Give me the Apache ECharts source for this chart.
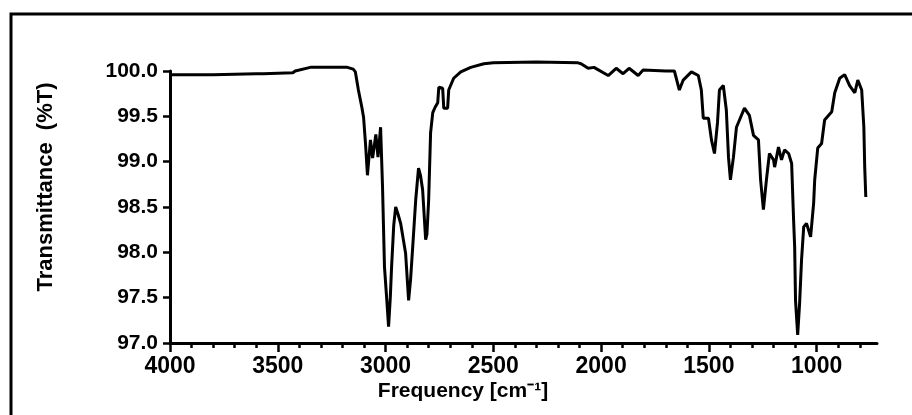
<!DOCTYPE html>
<html>
<head>
<meta charset="utf-8">
<script src="https://cdn.jsdelivr.net/npm/echarts@6/dist/echarts.min.js"></script>
<style>html,body{margin:0;padding:0;background:#fff;}#c{width:912px;height:415px;}</style>
</head>
<body>
<div id="c"></div>
<script>
var wavenumber = [4000,3800,3600,3567,3430,3419,3349,3177,3150,3140,3126,3110,3102,3093,3084,3070,3060,3045,3035,3023,3014,3005,2995,2986,2978,2972,2962,2953,2942,2930,2907,2893,2884,2874,2860,2847,2838,2828,2814,2808,2800,2791,2781,2770,2758,2753,2735,2730,2712,2707,2684,2651,2605,2544,2500,2300,2107,2093,2060,2033,1967,1930,1898,1870,1828,1805,1700,1660,1637,1619,1581,1549,1535,1526,1502,1488,1474,1460,1451,1433,1419,1409,1400,1386,1372,1358,1335,1312,1293,1270,1260,1247,1233,1219,1200,1195,1177,1163,1149,1130,1116,1107,1102,1098,1088,1079,1070,1060,1047,1028,1014,1009,995,977,963,930,916,893,870,847,823,809,791,781,777,772];
var transmittance = [99.96,99.96,99.97,99.97,99.98,100.0,100.04,100.04,100.02,99.99,99.79,99.6,99.49,99.2,98.85,99.24,99.04,99.3,99.05,99.38,98.72,97.84,97.5,97.18,97.5,97.84,98.3,98.5,98.42,98.32,97.99,97.47,97.7,98.06,98.58,98.93,98.85,98.69,98.14,98.2,98.58,99.32,99.54,99.6,99.65,99.82,99.81,99.59,99.59,99.79,99.92,99.99,100.04,100.08,100.09,100.1,100.09,100.08,100.03,100.04,99.95,100.03,99.97,100.03,99.95,100.01,100.0,100.0,99.79,99.9,99.99,99.95,99.79,99.48,99.48,99.24,99.09,99.43,99.79,99.84,99.57,99.05,98.8,99.05,99.38,99.46,99.59,99.51,99.29,99.24,98.8,98.47,98.8,99.09,99.02,98.94,99.16,99.02,99.13,99.09,98.98,98.36,98.06,97.47,97.09,97.44,97.92,98.28,98.32,98.17,98.54,98.8,99.15,99.2,99.46,99.55,99.76,99.92,99.96,99.84,99.76,99.9,99.79,99.38,98.94,98.61];
var xMajorTicks = [4000,3500,3000,2500,2000,1500,1000];
var xMinorTicks = [3900,3800,3700,3600,3400,3300,3200,3100,2900,2800,2700,2600,2400,2300,2200,2100,1900,1800,1700,1600,1400,1300,1200,1100,900,800];
var yTicks = [97.0,97.5,98.0,98.5,99.0,99.5,100.0];

var pts = wavenumber.map(function(w, i){ return [w, transmittance[i]]; });
var chart = echarts.init(document.getElementById('c'));
var F = '"Liberation Sans", Arial, sans-serif';
var TC = '#000';
chart.setOption({
  animation: false,
  backgroundColor: '#fff',
  grid: {left: 170, right: 35, top: 71, bottom: 72},
  xAxis: [{
    type: 'value', min: 720, max: 4000, inverse: true,
    axisLine: {show: true, onZero: false, lineStyle: {color: '#000', width: 3}},
    axisTick: {show: true, customValues: xMajorTicks, length: 9, lineStyle: {color: TC, width: 2.5}},
    axisLabel: {customValues: xMajorTicks, margin: 12, color: '#000', fontSize: 23, fontWeight: 'bold', fontFamily: F,
      formatter: function(v){ return String(v); }},
    splitLine: {show: false}
  }, {
    type: 'value', min: 720, max: 4000, inverse: true, position: 'bottom', offset: 0,
    axisLine: {show: false, onZero: false},
    axisTick: {show: true, customValues: xMinorTicks, length: 5, lineStyle: {color: TC, width: 2.5}},
    axisLabel: {show: false, customValues: xMinorTicks},
    splitLine: {show: false}
  }],
  yAxis: {
    type: 'value', min: 97, max: 100, interval: 0.5,
    axisLine: {show: true, lineStyle: {color: '#000', width: 3}},
    axisTick: {show: true, length: 7, lineStyle: {color: TC, width: 2.5}},
    axisLabel: {customValues: yTicks, margin: 12, color: '#000', fontSize: 21, fontWeight: 'bold', fontFamily: F,
      formatter: function(v){ return v.toFixed(1); }},
    splitLine: {show: false}
  },
  graphic: [
    {type: 'rect', shape: {x: 11, y: 14, width: 1000, height: 600}, style: {fill: null, stroke: '#000', lineWidth: 3}, silent: true},
    {type: 'text', x: 46, y: 187, rotation: Math.PI / 2, style: {text: 'Transmittance  (%T)', x: 0, y: 0, align: 'center', verticalAlign: 'middle', fill: '#000', font: 'bold 22px ' + F}},
    {type: 'text', x: 463, y: 391, style: {text: 'Frequency [cm\u207B\u00B9]', x: 0, y: 0, align: 'center', verticalAlign: 'middle', fill: '#000', font: 'bold 21px ' + F}}
  ],
  series: [{
    type: 'line', xAxisIndex: 0, data: pts, showSymbol: false, clip: false,
    lineStyle: {color: '#000', width: 3}
  }]
});
</script>
</body>
</html>
